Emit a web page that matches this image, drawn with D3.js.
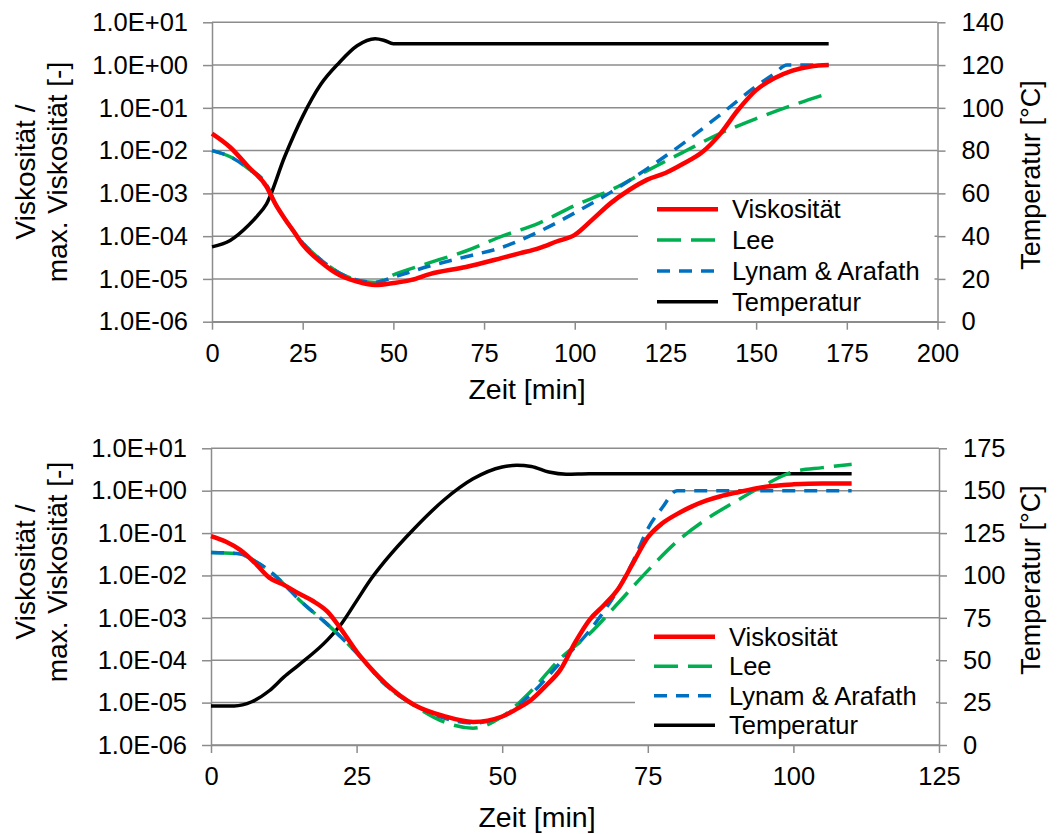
<!DOCTYPE html>
<html>
<head>
<meta charset="utf-8">
<script src="https://cdn.jsdelivr.net/npm/d3@7"></script>
<style>
  body { margin: 0; background: #fff; }
  svg { display: block; font-family: "Liberation Sans", Arial, sans-serif; }
</style>
</head>
<body>
<div class="chart"></div>
<script>
// ---- data ----
const seriesNames = ["Viskosität", "Lee", "Lynam & Arafath", "Temperatur"];
const logTicks = [1e-6, 1e-5, 1e-4, 1e-3, 1e-2, 1e-1, 1e0, 1e1];

// upper chart
const top_xTicks = [0, 25, 50, 75, 100, 125, 150, 175, 200];
const top_tTicks = [0, 20, 40, 60, 80, 100, 120, 140];

const top_viscTime = [0, 5, 10, 15, 17.5, 20, 22.5, 25, 30, 35, 40, 45, 50, 55, 60, 70, 80, 85, 90, 95, 100, 105, 110, 115, 120, 125, 130, 135, 140, 145, 150, 155, 160, 165, 170];
const top_visc = [2.5e-2, 1.2e-2, 4.2e-3, 1.45e-3, 5.6e-4, 2.6e-4, 1.3e-4, 6.3e-5, 2.5e-5, 1.25e-5, 8.7e-6, 7.2e-6, 8e-6, 9.5e-6, 1.3e-5, 1.9e-5, 3.1e-5, 4e-5, 5.2e-5, 7.5e-5, 1.07e-4, 2.5e-4, 6e-4, 1.2e-3, 2.1e-3, 3e-3, 5e-3, 9e-3, 2.4e-2, 8.9e-2, 0.26, 0.49, 0.74, 0.93, 1.0];

const top_leeTime = [0, 5, 10, 15, 17.5, 20, 25, 30, 35, 40, 45, 50, 60, 70, 80, 90, 100, 110, 120, 130, 140, 150, 160, 170];
const top_lee = [1e-2, 7.2e-3, 3.8e-3, 1.6e-3, 5.6e-4, 2.6e-4, 7e-5, 2.8e-5, 1.4e-5, 9.5e-6, 8.3e-6, 1.25e-5, 2.4e-5, 4.5e-5, 1e-4, 2e-4, 5.2e-4, 1.2e-3, 3.4e-3, 9.3e-3, 2.5e-2, 5.6e-2, 0.115, 0.22];

const top_lynTime = [0, 5, 10, 15, 17.5, 20, 25, 30, 35, 40, 45, 50, 60, 70, 80, 90, 100, 110, 120, 130, 140, 150, 155, 158.5, 170];
const top_lyn = [1e-2, 7.2e-3, 3.8e-3, 1.6e-3, 5.6e-4, 2.6e-4, 7e-5, 2.8e-5, 1.4e-5, 9.5e-6, 8.3e-6, 1.1e-5, 2e-5, 3.3e-5, 5.5e-5, 1.26e-4, 3.5e-4, 1.07e-3, 3.8e-3, 1.5e-2, 6.8e-2, 0.32, 0.63, 1.0, 1.0];

const top_tempTime = [0, 5, 10, 12.5, 15, 20, 25, 30, 35, 40, 45, 47.5, 50, 55, 170];
const top_temp = [35, 38, 45, 49.5, 55, 77, 96, 111, 121, 129, 132.3, 131.5, 130, 130, 130];

// lower chart
const bot_xTicks = [0, 25, 50, 75, 100, 125];
const bot_tTicks = [0, 25, 50, 75, 100, 125, 150, 175];

const bot_viscTime = [0, 2.5, 5, 7.5, 10, 12.5, 15, 17.5, 20, 22.5, 25, 27.5, 30, 35, 40, 45, 50, 52.5, 55, 57.5, 60, 62.5, 65, 67.5, 70, 72.5, 75, 77.5, 80, 82.5, 85, 87.5, 90, 95, 100, 105, 110];
const bot_visc = [8.5e-2, 6.3e-2, 4e-2, 2e-2, 8.9e-3, 6e-3, 3.8e-3, 2.5e-3, 1.4e-3, 5e-4, 1.6e-4, 6.3e-5, 2.8e-5, 8.7e-6, 4.8e-6, 3.5e-6, 4.7e-6, 7.1e-6, 1.17e-5, 2.5e-5, 6e-5, 2.6e-4, 9e-4, 2e-3, 5e-3, 2e-2, 7.9e-2, 0.17, 0.28, 0.42, 0.58, 0.74, 0.89, 1.23, 1.41, 1.48, 1.48];

const bot_leeTime = [0, 5, 7.5, 10, 12.5, 15, 20, 25, 30, 35, 40, 45, 50, 55, 60, 65, 70, 75, 80, 85, 90, 95, 100, 105, 110];
const bot_lee = [3.5e-2, 3.2e-2, 2.2e-2, 1.3e-2, 6.3e-3, 2.8e-3, 7e-4, 1.5e-4, 2.6e-5, 8.3e-6, 3.5e-6, 2.5e-6, 4.7e-6, 1.9e-5, 1.1e-4, 4.2e-4, 2.3e-3, 1.3e-2, 6.3e-2, 0.21, 0.55, 1.35, 2.8, 3.5, 4.2];

const bot_lynTime = [0, 2.5, 5, 7.5, 10, 12.5, 15, 20, 25, 30, 35, 40, 45, 50, 55, 60, 65, 70, 72.5, 75, 77.5, 80, 110];
const bot_lyn = [3.5e-2, 3.4e-2, 3.2e-2, 2.2e-2, 1.3e-2, 6.3e-3, 2.8e-3, 7e-4, 1.5e-4, 2.6e-5, 8.7e-6, 4.3e-6, 3.3e-6, 4.7e-6, 1.6e-5, 8.9e-5, 5e-4, 5e-3, 2.2e-2, 0.126, 0.4, 1.0, 1.0];

const bot_tempTime = [0, 4, 7, 10, 12.5, 15, 20, 22.5, 25, 27.5, 30, 35, 40, 45, 50, 52.5, 55, 58, 61, 65, 110];
const bot_temp = [23, 23, 25.5, 32, 40, 47, 62, 72, 85, 98, 109, 128, 144.5, 157, 164, 165, 164.3, 161, 159.7, 160, 160];

// ---- drawing ----
const width = 1057;
const height = 834;
const grid = "#8c8c8c";
const fs = 25.5;   // tick labels + legend

const svg = d3.select(".chart")
  .append("svg")
  .attr("width", width)
  .attr("height", height);

svg.append("rect").attr("width", width).attr("height", height).attr("fill", "#fff");

const fmtE = (v) => {
  const e = Math.round(Math.log10(v));
  return "1.0E" + (e < 0 ? "-" : "+") + String(Math.abs(e)).padStart(2, "0");
};

const styles = [
  { color: "#ff0000", w: 4.5, dash: null },
  { color: "#00b050", w: 3.5, dash: "24,10" },
  { color: "#0070c0", w: 3.5, dash: "13,9" },
  { color: "#000000", w: 3.5, dash: null }
];

function panel(p) {
  const x = d3.scaleLinear().domain([0, p.xMax]).range([p.left, p.right]);
  const yL = d3.scaleLog().domain([1e-6, 1e1]).range([p.bottom, p.top]);
  const yR = d3.scaleLinear().domain([0, p.tMax]).range([p.bottom, p.top]);
  const g = svg.append("g");

  // gridlines
  g.selectAll(".grid")
    .data(logTicks)
    .enter()
    .append("line")
    .attr("x1", p.left)
    .attr("x2", p.right)
    .attr("y1", (d) => yL(d))
    .attr("y2", (d) => yL(d))
    .attr("stroke", grid)
    .attr("stroke-width", 1.5);

  const axL = g.append("g").attr("transform", `translate(${p.left},0)`)
    .call(d3.axisLeft(yL).tickValues(logTicks).tickFormat(fmtE).tickSize(9).tickSizeOuter(0).tickPadding(15));
  const axR = g.append("g").attr("transform", `translate(${p.right},0)`)
    .call(d3.axisRight(yR).tickValues(p.tTicks).tickSize(8).tickSizeOuter(0).tickPadding(16));
  const axB = g.append("g").attr("transform", `translate(0,${p.bottom})`)
    .call(d3.axisBottom(x).tickValues(p.xTicks).tickSize(8).tickSizeOuter(0).tickPadding(14));

  [axL, axR, axB].forEach((a) => {
    a.selectAll("path, line").attr("stroke", grid).attr("stroke-width", 1.5);
    a.selectAll("text").attr("fill", "#000").style("font-size", fs + "px")
      .style("font-family", '"Liberation Sans", Arial, sans-serif');
  });

  // series
  const series = [
    [p.viscTime, p.visc, yL],
    [p.leeTime, p.lee, yL],
    [p.lynTime, p.lyn, yL],
    [p.tempTime, p.temp, yR]
  ];
  [3, 1, 2, 0].forEach((i) => {
    const [ts, vs, ys] = series[i];
    const line = d3.line()
      .x((d) => x(d[0]))
      .y((d) => ys(d[1]))
      .curve(d3.curveMonotoneX);
    g.append("path")
      .datum(ts.map((t, k) => [t, vs[k]]))
      .attr("d", line)
      .attr("fill", "none")
      .attr("stroke", styles[i].color)
      .attr("stroke-width", styles[i].w)
      .attr("stroke-dasharray", styles[i].dash)
      .attr("stroke-linejoin", "round");
  });

  // legend
  const lg = g.append("g");
  lg.append("rect")
    .attr("x", p.legX).attr("y", p.legY - 14)
    .attr("width", p.right - 3 - p.legX).attr("height", p.bottom - 2 - (p.legY - 14))
    .attr("fill", "#fff");
  seriesNames.forEach((name, i) => {
    const yy = p.legY + i * p.legStep;
    lg.append("line")
      .attr("x1", p.legX + 19).attr("x2", p.legX + 80)
      .attr("y1", yy).attr("y2", yy)
      .attr("stroke", styles[i].color)
      .attr("stroke-width", styles[i].w)
      .attr("stroke-dasharray", styles[i].dash);
    lg.append("text")
      .attr("x", p.legX + 94).attr("y", yy).attr("dy", "0.35em")
      .style("font-size", fs + "px")
      .text(name);
  });

  // axis titles
  const ttl = g.append("g");
  ttl.append("text").attr("text-anchor", "middle").style("font-size", "28px")
    .attr("transform", `translate(35,${p.midY}) rotate(-90)`).text("Viskosität /");
  ttl.append("text").attr("text-anchor", "middle").style("font-size", "28px")
    .attr("transform", `translate(67,${p.midY}) rotate(-90)`).text("max. Viskosität [-]");
  ttl.append("text").attr("text-anchor", "middle").style("font-size", "27px")
    .attr("transform", `translate(1040,${p.midYR}) rotate(-90)`).text("Temperatur [°C]");
  ttl.append("text").attr("text-anchor", "middle").style("font-size", "28.5px")
    .attr("x", p.xTitleX).attr("y", p.xTitleY).text("Zeit [min]");
}

panel({
  left: 212, right: 937.5, top: 22.3, bottom: 321.7,
  xMax: 200, tMax: 140, xTicks: top_xTicks, tTicks: top_tTicks,
  viscTime: top_viscTime, visc: top_visc,
  leeTime: top_leeTime, lee: top_lee,
  lynTime: top_lynTime, lyn: top_lyn,
  tempTime: top_tempTime, temp: top_temp,
  legX: 638, legY: 209.3, legStep: 30.8,
  midY: 172, midYR: 175, xTitleX: 527, xTitleY: 399
});

panel({
  left: 211, right: 939, top: 448.3, bottom: 745,
  xMax: 125, tMax: 175, xTicks: bot_xTicks, tTicks: bot_tTicks,
  viscTime: bot_viscTime, visc: bot_visc,
  leeTime: bot_leeTime, lee: bot_lee,
  lynTime: bot_lynTime, lyn: bot_lyn,
  tempTime: bot_tempTime, temp: bot_temp,
  legX: 635, legY: 636.7, legStep: 29.5,
  midY: 572, midYR: 580, xTitleX: 537, xTitleY: 827
});
</script>
</body>
</html>
